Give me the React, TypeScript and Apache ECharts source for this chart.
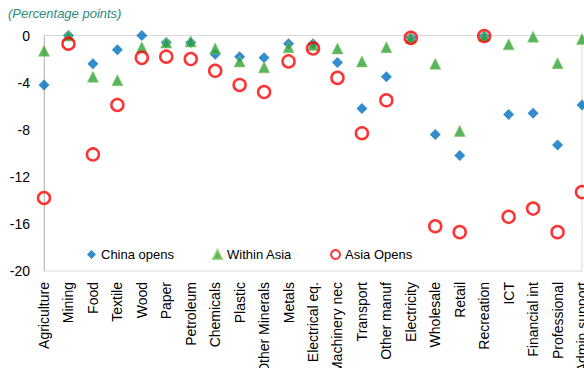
import React, { useEffect, useRef } from "react";
import * as echarts from "echarts";

const categories = [
  "Agriculture", "Mining", "Food", "Textile", "Wood", "Paper", "Petroleum",
  "Chemicals", "Plastic", "Other Minerals", "Metals", "Electrical eq.",
  "Machinery nec", "Transport", "Other manuf", "Electricity", "Wholesale",
  "Retail", "Recreation", "ICT", "Financial int", "Professional", "Admin support",
];

const chinaOpens = [
  -4.2, 0, -2.4, -1.2, 0, -0.6, -0.6, -1.6, -1.8, -1.9, -0.7, -0.7,
  -2.3, -6.2, -3.5, -0.2, -8.4, -10.2, -0.05, -6.7, -6.6, -9.3, -5.9,
];

const withinAsia = [
  -1.3, 0, -3.5, -3.8, -1.0, -0.6, -0.5, -1.1, -2.2, -2.7, -1.0, -0.8,
  -1.1, -2.2, -1.0, -0.2, -2.4, -8.1, -0.05, -0.75, -0.1, -2.35, -0.3,
];

const asiaOpens = [
  -13.8, -0.7, -10.1, -5.9, -1.9, -1.8, -2.0, -3.0, -4.2, -4.8, -2.2, -1.1,
  -3.6, -8.3, -5.5, -0.2, -16.2, -16.7, -0.05, -15.4, -14.7, -16.7, -13.3,
];

const yTicks = { min: -20, max: 0, interval: 4 };

export default function App() {
  const ref = useRef<HTMLDivElement>(null);
  useEffect(() => {
    if (!ref.current) return;
    document.body.style.margin = "0";
    const chart = echarts.init(ref.current, undefined, { renderer: "svg" });
    const font = "'Liberation Sans', Arial, sans-serif";
    chart.setOption({
      animation: false,
      textStyle: { fontFamily: font },
      title: {
        text: "(Percentage points)",
        left: 3,
        top: 2,
        textStyle: {
          fontSize: 13,
          fontStyle: "italic",
          fontWeight: "normal",
          color: "#2E8B7D",
          fontFamily: font,
        },
      },
      grid: {
        left: 44,
        right: 2,
        top: 35.5,
        bottom: 97,
        containLabel: false,
        outerBoundsMode: "none",
        show: true,
        borderColor: "#D9D9D9",
        borderWidth: 1,
      },
      legend: {
        left: 82,
        top: 243,
        itemWidth: 9,
        itemHeight: 9,
        itemGap: 38,
        textStyle: { fontSize: 13, color: "#000", fontFamily: font },
        data: ["China opens", "Within Asia", "Asia Opens"],
      },
      xAxis: {
        type: "category",
        data: categories,
        boundaryGap: false,
        axisLine: { show: false },
        axisTick: { show: false },
        axisLabel: {
          rotate: 90,
          interval: 0,
          margin: 11,
          fontSize: 14,
          color: "#000",
          fontFamily: font,
          hideOverlap: false,
          showMaxLabel: true,
          showMinLabel: true,
        },
        splitLine: { show: false },
      },
      yAxis: {
        type: "value",
        min: yTicks.min,
        max: yTicks.max,
        interval: yTicks.interval,
        axisLine: { show: true, lineStyle: { color: "#BFBFBF" } },
        axisTick: { show: false },
        splitLine: { show: false },
        axisLabel: { fontSize: 14, color: "#000", margin: 14, fontFamily: font },
      },
      series: [
        {
          name: "China opens",
          type: "scatter",
          data: chinaOpens,
          symbol: "diamond",
          symbolSize: 11,
          clip: false,
          itemStyle: { color: "#0070C0" },
          z: 2,
        },
        {
          name: "Within Asia",
          type: "scatter",
          data: withinAsia,
          symbol: "triangle",
          symbolSize: 11,
          clip: false,
          itemStyle: { color: "#2EA237", borderColor: "#8CCB6A", borderWidth: 0.8 },
          z: 3,
        },
        {
          name: "Asia Opens",
          type: "scatter",
          data: asiaOpens,
          symbol: "circle",
          symbolSize: 12,
          clip: false,
          itemStyle: { color: "rgba(255,255,255,0)", borderColor: "#FF0000", borderWidth: 2.5 },
          z: 4,
        },
      ],
    });
    return () => chart.dispose();
  }, []);
  return (
    <div
      ref={ref}
      style={{ width: 584, height: 368, position: "absolute", left: 0, top: 0 }}
    />
  );
}
